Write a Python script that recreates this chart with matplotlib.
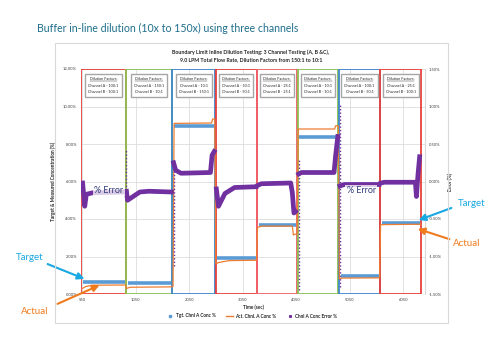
import matplotlib
matplotlib.use("Agg")
import matplotlib.pyplot as plt
from matplotlib.patches import Rectangle
from matplotlib.lines import Line2D

plt.rcParams["font.family"] = ["Lato", "DejaVu Sans"]

# --- données ---
panel_edges = [30, 870, 1730, 2540, 3320, 4070, 4850, 5620, 6390]
panel_colors = ["#E8403A", "#8CC152", "#3F88CC", "#E8403A",
                "#F0626A", "#8CC152", "#3F88CC", "#E8403A"]
dil_a = ["100:1", "150:1", "10:1", "50:1", "25:1", "10:1", "100:1", "25:1"]
dil_b = ["100:1", "10:1", "150:1", "50:1", "25:1", "10:1", "50:1", "100:1"]

target_conc = [0.64, 0.59, 8.96, 1.92, 3.68, 8.37, 0.96, 3.79]

act_time = [60, 120, 250, 860, 880, 950, 1720, 1750, 1770, 2470, 2490, 2530,
            2550, 2600, 2800, 3310, 3330, 3400, 3980, 4000, 4050, 4070,
            4090, 4770, 4790, 4840, 4860, 4900, 5610, 5630, 6380]
act_conc = [0.30, 0.40, 0.47, 0.48, 0.30, 0.36, 0.38, 0.40, 9.10, 9.12, 9.33, 9.33,
            1.60, 1.68, 1.78, 1.80, 3.55, 3.62, 3.62, 3.15, 3.20, 3.20,
            8.80, 8.80, 8.97, 8.97, 0.80, 0.85, 0.86, 3.70, 3.72]

err_time = [
    [60, 100, 130, 250, 860],
    [880, 900, 1130, 1300, 1720],
    [1760, 1800, 1900, 2450, 2480, 2520],
    [2560, 2600, 2720, 2900, 3300],
    [3340, 3400, 3950, 3980, 4010, 4040],
    [4100, 4150, 4760, 4790, 4830],
    [4870, 4950, 5600],
    [5640, 5700, 6280, 6300, 6330, 6360],
]
err_val = [
    [-0.02, -0.33, -0.17, -0.15, -0.14],
    [-0.13, -0.25, -0.14, -0.13, -0.14],
    [0.25, 0.15, 0.11, 0.12, 0.35, 0.40],
    [-0.10, -0.33, -0.16, -0.08, -0.07],
    [-0.05, -0.03, -0.02, -0.15, -0.42, -0.40],
    [0.10, 0.12, 0.12, 0.35, 0.60],
    [-0.06, -0.04, -0.04],
    [-0.02, -0.01, -0.01, -0.20, 0.10, 0.33],
]
# transitoires (pointillés verticaux)
spike_time = [880, 1760, 4100, 4870, 3990]
spike_low = [-0.20, -1.13, -1.44, -1.40, -0.42]
spike_high = [0.43, 0.29, 0.30, 1.05, -0.13]

x_ticks = [50, 1050, 2050, 3050, 4050, 5050, 6050]
x_tick_labels = ["550", "1050", "2050", "3050", "4050", "5050", "6050"]
y_ticks = [0, 2, 4, 6, 8, 10, 12]
y_tick_labels = ["0.00%", "2.00%", "4.00%", "6.00%", "8.00%", "10.00%", "12.00%"]
err_ticks = [-1.5, -1.0, -0.5, 0.0, 0.5, 1.0, 1.5]
err_tick_labels = ["-1.50%", "-1.00%", "-0.50%", "0.00%", "0.50%", "1.00%", "1.50%"]

BLUE = "#5B9BD5"
ORANGE = "#ED7D31"
PURPLE = "#7030A0"
TXT = "#262626"

W, H = 499, 346
fig = plt.figure(figsize=(W / 100, H / 100), dpi=100)
fig.patch.set_facecolor("white")

# titre de la diapo
fig.text(37 / W, 1 - 28 / H, "Buffer in-line dilution (10x to 150x) using three channels",
         fontsize=7.6, color="#1F6F8B", ha="left", va="center")

# cadre du graphique
fig.add_artist(Rectangle((55 / W, 23 / H), 393 / W, 280 / H, transform=fig.transFigure,
                         fill=False, ec="#D9D9D9", lw=0.8))
fig.text(251 / W, 1 - 52 / H,
         "Boundary Limit Inline Dilution Testing: 3 Channel Testing (A, B &C),",
         fontsize=3.8, fontweight="bold", ha="center", va="center", color=TXT)
fig.text(251 / W, 1 - 60 / H,
         "9.0 LPM Total Flow Rate, Dilution Factors from 150:1 to 10:1",
         fontsize=3.8, fontweight="bold", ha="center", va="center", color=TXT)

ax = fig.add_axes([81 / W, 52 / H, 344 / W, 225 / H])
ax2 = ax.twinx()

ax.set_xlim(30, 6460)
ax.set_ylim(0, 12)
ax2.set_ylim(-1.5, 1.5)

ax.set_xticks(x_ticks)
ax.set_xticklabels(x_tick_labels)
ax.set_yticks(y_ticks)
ax.set_yticklabels(y_tick_labels)
ax2.set_yticks(err_ticks)
ax2.set_yticklabels(err_tick_labels)
for a in (ax, ax2):
    a.tick_params(length=0, labelsize=3.0, colors="#404040", pad=3)
    for s in a.spines.values():
        s.set_visible(False)
ax.spines["right"].set_visible(True)
ax.spines["right"].set_color("#D9D9D9")
ax.grid(True, color="#DDDDDD", lw=0.6)
ax.set_axisbelow(True)

ax.set_xlabel("Time (sec)", fontsize=3.4, fontweight="bold", color=TXT, labelpad=2)
ax.set_ylabel("Target & Measured Concentration (%)", fontsize=3.4, fontweight="bold",
              color=TXT, labelpad=5)
ax2.set_ylabel("Error (%)", fontsize=3.4, fontweight="bold", color=TXT, labelpad=4)

# panneaux colorés + boîtes de facteurs de dilution
BOX_FS = 2.7
boxes = []
for i, c in enumerate(panel_colors):
    x0, x1 = panel_edges[i], panel_edges[i + 1]
    ax.add_patch(Rectangle((x0 + 8, 0.02), x1 - x0 - 16, 11.96, fill=False, ec=c,
                           lw=1.3, zorder=2))
    t = ax.text((x0 + x1) / 2, 11.55,
                "Dilution Factors:\nChannel A - " + dil_a[i] + "\nChannel B - " + dil_b[i],
                fontsize=BOX_FS, ha="center", va="top", color=TXT, linespacing=1.8,
                multialignment="center", zorder=4,
                bbox=dict(boxstyle="square,pad=0.8", fc="white", ec="#A6A6A6", lw=1.0))
    boxes.append(t)

# cible (bleu) et mesure (orange)
for i, v in enumerate(target_conc):
    ax.plot([panel_edges[i] + 40, panel_edges[i + 1] - 15], [v, v], color=BLUE,
            lw=2.6, solid_capstyle="butt", zorder=3)
ax.plot(act_time, act_conc, color=ORANGE, lw=0.9, zorder=3)

# erreur (violet)
for t, e in zip(err_time, err_val):
    ax2.plot(t, e, color=PURPLE, lw=3.4, zorder=3)
ax2.vlines(spike_time, spike_low, spike_high, colors=PURPLE, linestyles=(0, (1, 1.5)),
           lw=1.0, zorder=3)

# étiquettes % Error
for xt in (550, 5265):
    ax2.text(xt, -0.12, "% Error", fontsize=6.4, color="#2E3A78", ha="center",
             va="center", zorder=6,
             bbox=dict(boxstyle="square,pad=0.15", fc="white", ec="none", alpha=0.75))

# flèches Target / Actual
CYAN = "#1AA8E2"
ORG = "#F07B1E"
arrow_targets = [((143, 0.75), (45, H - 263), CYAN), ((424, 0.53), (55, H - 305), ORG),
                 ((6293, 3.89), (454, H - 207), CYAN), ((6274, 3.52), (452, H - 240), ORG)]
for xy, xyt, col in arrow_targets:
    ax.annotate("", xy=xy, xytext=xyt, textcoords="figure pixels",
                arrowprops=dict(arrowstyle="-|>,head_length=0.4,head_width=0.2",
                                color=col, lw=1.5),
                annotation_clip=False, zorder=7)
fig.text(30 / W, 1 - 258 / H, "Target", fontsize=7, color=CYAN, ha="center", va="center")
fig.text(35 / W, 1 - 312 / H, "Actual", fontsize=7, color=ORG, ha="center", va="center")
fig.text(472 / W, 1 - 204 / H, "Target", fontsize=7, color=CYAN, ha="center", va="center")
fig.text(467 / W, 1 - 243 / H, "Actual", fontsize=7, color=ORG, ha="center", va="center")

# légende
h1, = ax.plot([], [], ls="none", marker="s", ms=1.6, color=BLUE)
h2, = ax.plot([], [], color=ORANGE, lw=1.0)
h3, = ax.plot([], [], ls="none", marker="s", ms=1.2, color=PURPLE)
leg = fig.legend([h1, h2, h3], ["Tgt. Chnl A Conc %", "Act. Chnl. A Conc %",
                                "Chnl A Conc Error %"],
                 loc="center", bbox_to_anchor=(252 / W, 1 - 316 / H), ncol=3,
                 frameon=False, fontsize=3.4, handlelength=1.5, columnspacing=2.2,
                 handletextpad=0.4)
for t in leg.get_texts():
    t.set_fontweight("bold")
    t.set_color(TXT)

# soulignement des titres "Dilution Factors:"
r = fig.canvas.get_renderer()
tmp = fig.text(0, 0, "Dilution Factors:", fontsize=BOX_FS)
head_w = tmp.get_window_extent(r).width
tmp.remove()
fs_px = BOX_FS * 100 / 72
for t in boxes:
    bb = t.get_window_extent(r)
    cx = (bb.x0 + bb.x1) / 2
    y = bb.y1 - fs_px * 1.05
    fig.add_artist(Line2D([cx - head_w / 2, cx + head_w / 2], [y, y], transform=None,
                          color=TXT, lw=0.3, zorder=5))

fig.savefig("out.png", dpi=100)
